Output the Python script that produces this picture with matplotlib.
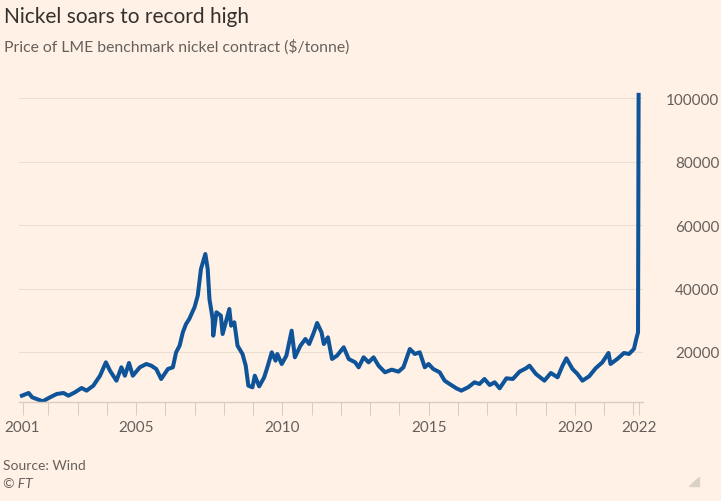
import matplotlib.pyplot as plt
from matplotlib.patches import Polygon

# LME nickel price, $/tonne (fractional years)
years = [
    2001.10, 2001.33, 2001.45, 2001.81, 2002.06, 2002.29, 2002.52, 2002.69,
    2002.91, 2003.14, 2003.31, 2003.54, 2003.77, 2003.97, 2004.11, 2004.33,
    2004.50, 2004.62, 2004.76, 2004.89, 2005.13, 2005.35, 2005.52, 2005.69,
    2005.86, 2006.09, 2006.26, 2006.37, 2006.49, 2006.60, 2006.71, 2006.82,
    2007.00, 2007.11, 2007.22, 2007.37, 2007.45, 2007.51, 2007.62, 2007.64,
    2007.75, 2007.90, 2007.96, 2008.19, 2008.25, 2008.36, 2008.47, 2008.64,
    2008.75, 2008.84, 2008.98, 2009.06, 2009.21, 2009.38, 2009.49, 2009.64,
    2009.77, 2009.83, 2009.98, 2010.14, 2010.32, 2010.43, 2010.62, 2010.79,
    2010.92, 2011.08, 2011.19, 2011.34, 2011.42, 2011.56, 2011.70, 2011.87,
    2012.10, 2012.27, 2012.49, 2012.61, 2012.78, 2012.95, 2013.12, 2013.29,
    2013.51, 2013.74, 2013.97, 2014.14, 2014.36, 2014.53, 2014.70, 2014.87,
    2015.00, 2015.16, 2015.38, 2015.55, 2015.72, 2015.95, 2016.12, 2016.35,
    2016.57, 2016.74, 2016.91, 2017.09, 2017.26, 2017.43, 2017.66, 2017.88,
    2018.11, 2018.33, 2018.45, 2018.67, 2018.96, 2019.18, 2019.41, 2019.58,
    2019.71, 2019.92, 2020.09, 2020.26, 2020.49, 2020.71, 2020.94, 2021.15,
    2021.22, 2021.45, 2021.68, 2021.85, 2022.02, 2022.10, 2022.16, 2022.18,
]
prices = [
    6240, 7090, 5730, 4470, 5730, 6770, 7090, 6240,
    7300, 8660, 7830, 9390, 12540, 16750, 14110, 10970,
    15180, 12540, 16540, 12540, 15180, 16220, 15700, 14650,
    11500, 14650, 15180, 19900, 21990, 26200, 28820, 30400,
    34080, 37740, 46150, 50870, 46150, 36700, 30400, 25140,
    32500, 31450, 25670, 33550, 28290, 29360, 21990, 19370,
    15690, 9390, 8870, 12540, 9180, 12020, 15180, 19900,
    17270, 19370, 16220, 18840, 26720, 18330, 21990, 24100,
    22520, 26200, 29140, 26200, 22520, 24620, 17800, 18840,
    21480, 17800, 16750, 15180, 18330, 16750, 18330, 15690,
    13600, 14440, 13810, 15180, 20950, 19370, 19900, 15180,
    16220, 14650, 13600, 10970, 9920, 8560, 7830, 8870,
    10450, 9920, 11500, 9600, 10450, 8560, 11710, 11500,
    13810, 14860, 15690, 13070, 10970, 13390, 12020, 15690,
    18010, 14650, 13070, 10970, 12350, 14860, 16750, 19690,
    16220, 17800, 19690, 19370, 20950, 24100, 26200, 101000,
]

yticks = [20000, 40000, 60000, 80000, 100000]
xlabel_pos = [2001.12, 2005, 2010, 2015, 2020, 2022.19]
xlabel_text = ['2001', '2005', '2010', '2015', '2020', '2022']
minor_pos = list(range(2002, 2023)) + [2001.12, 2022.19]

bg = '#fff1e5'
plt.rcParams['font.family'] = ['Lato', 'DejaVu Sans']

fig = plt.figure(figsize=(7.21, 5.02), dpi=100, facecolor=bg)
ax = fig.add_axes([19/721, 99/502, 624/721, 313.5/502], facecolor=bg)

ax.plot(years, prices, color='#0f5499', linewidth=2.9, solid_joinstyle='round')

ax.set_xlim(2001.0, 2022.33)
ax.set_ylim(4250, 103000)

ax.yaxis.tick_right()
ax.set_yticks(yticks)
ax.set_yticklabels([str(v) for v in yticks], ha='right')
ax.tick_params(axis='y', length=0, pad=55, labelsize=11, labelcolor='#66605c')
ax.grid(axis='y', color='#ebdfd3', linewidth=0.8)

ax.set_xticks(xlabel_pos)
ax.set_xticklabels(xlabel_text)
ax.set_xticks(minor_pos, minor=True)
ax.tick_params(axis='x', which='both', length=9, width=0.8, color='#d9cdc2',
               labelsize=11, labelcolor='#66605c', pad=4)

for side in ['top', 'right', 'left']:
    ax.spines[side].set_visible(False)
ax.spines['bottom'].set_color('#d9cdc2')
ax.spines['bottom'].set_linewidth(1)

fig.text(4/721, 1 - 17/502, 'Nickel soars to record high', fontsize=15,
         color='#33302e', va='center', ha='left')
fig.text(4/721, 1 - 47/502, 'Price of LME benchmark nickel contract ($/tonne)',
         fontsize=11.3, color='#66605c', va='center', ha='left')
fig.text(3/721, 1 - 466/502, 'Source: Wind', fontsize=10, color='#66605c',
         va='center', ha='left')
fig.text(3/721, 1 - 484/502, '© FT', fontsize=10, color='#66605c',
         va='center', ha='left', style='italic')

# little corner mark
tri = Polygon([(699/721, 1 - 478/502), (699/721, 1 - 487/502),
               (689/721, 1 - 487/502)], closed=True,
              transform=fig.transFigure, color='#d9d0c6')
fig.patches.append(tri)

fig.savefig('out.png', dpi=100, facecolor=bg)
